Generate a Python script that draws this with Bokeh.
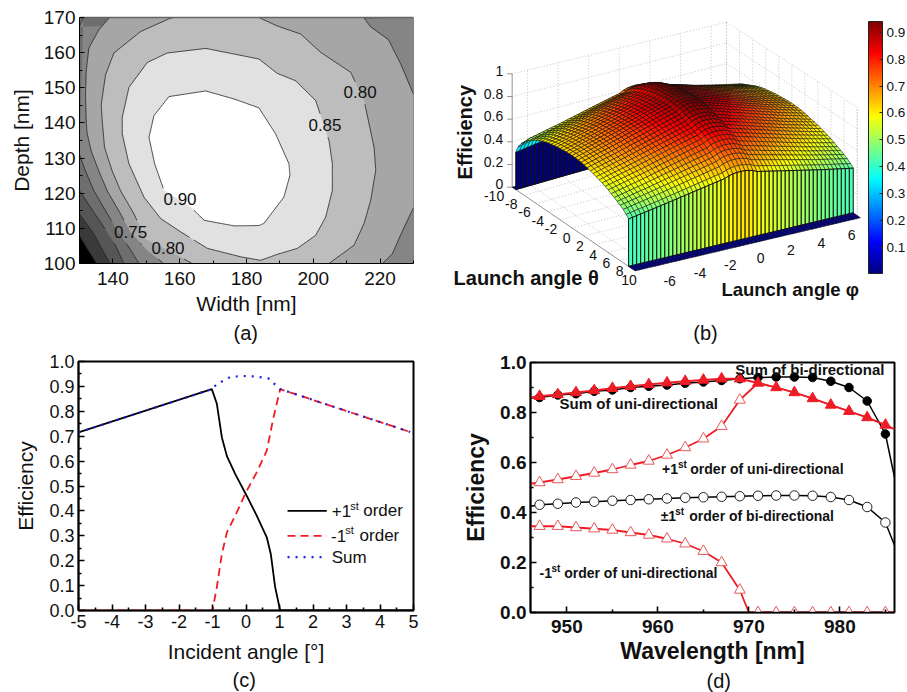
from bokeh.plotting import figure
from bokeh.layouts import column, row
from bokeh.embed import file_html
from bokeh.resources import INLINE
from bokeh.models import (Label, Title, Range1d, FixedTicker, PrintfTickFormatter, LinearAxis,
                          ColorBar, LinearColorMapper, ColumnDataSource)

FONT = "Liberation Sans"

# ---------- panel (a) contour curves ----------
a_xticks = [140, 160, 180, 200, 220]
a_xminor = [130, 150, 170, 190, 210, 230]
a_yticks = [100, 110, 120, 130, 140, 150, 160, 170]
a_yminor = [105, 115, 125, 135, 145, 155, 165]
a_c55 = [(130, 107.9), (132.3, 104.2), (135.1, 100)]
a_c60 = [(130, 114.1), (134.3, 108.4), (139.1, 100)]
a_c65 = [(130, 120.7), (133.3, 116), (137.3, 110.3), (140.8, 105.1), (143.3, 100)]
a_c70 = [(130, 131), (131.8, 126.3), (134.3, 120.7), (137.8, 115), (141.3, 109.3), (144.8, 104.6), (147.8, 100)]
a_c70_top = [(131.1, 170), (130, 167.4)]
a_c75_left = [(139, 170), (135.8, 166.5), (132.8, 161.3), (132, 154.7), (131.8, 148.1), (132, 140.5), (132.3, 137),
              (133.5, 132), (135.8, 126.3), (138.3, 120.7), (142.3, 114.1), (145.3, 108.9), (150.3, 103.7), (155.2, 100)]
a_c75_rtop = [(215.1, 170), (217.1, 167.4), (222.5, 163.7), (226.1, 156.9), (230, 148.2)]
a_c75_rbot = [(230, 115.9), (226.7, 109.3), (223.7, 102.8), (220.7, 100)]
a_c80_left = [(158, 170), (156.7, 169.6), (148.3, 166), (140.3, 159.9), (137.8, 153.7), (136.5, 145.2), (136.8, 140.5),
              (137.5, 133), (139.8, 126.3), (142.3, 120.7), (146.3, 114.1), (149.8, 107), (156.7, 103.7), (163.7, 100)]
a_c80_right = [(183.7, 170), (189.2, 167.6), (196.2, 165.3), (202.2, 160.1), (211.2, 154.4), (215.2, 146.4), (218.2, 133.1),
               (218.7, 126.5), (217.2, 118), (215.2, 111.4), (212.2, 105.2), (204.7, 100)]
a_c85 = [(150.3, 157.2), (156.3, 159.9), (167.8, 161.2), (176.3, 159.6), (183.7, 158.2), (189.2, 154.1), (194.7, 152),
         (200.7, 146.4), (204.7, 135), (205.7, 128.4), (205.7, 120.8), (203.7, 113.2), (200.7, 108), (195.2, 104.3),
         (189.2, 102.6), (184.2, 100.9), (178.3, 101.9), (168.3, 104.3), (160.3, 109), (154.3, 112.8), (149.3, 118.9),
         (144.8, 128.4), (142.8, 136.9), (142.8, 141.6), (144.8, 150.1), (150.3, 157.2)]
a_c90 = [(156.8, 147.5), (167.8, 149.1), (176.3, 146.8), (183.7, 144.3), (188.7, 136.9), (192.7, 128.4), (193, 125.1),
         (191.2, 118.9), (185.2, 111.4), (183.7, 110.8), (176.3, 110.7), (167.3, 112.3), (163.3, 116.1), (155.3, 120.8),
         (152.5, 128.4), (150.8, 135.9), (152.3, 142.1), (156.8, 147.5)]
a_labels = [(160.1, 118.3, "0.90"), (203.5, 139.5, "0.85"), (214, 148.7, "0.80"), (145.3, 109, "0.75"), (156.5, 104.3, "0.80")]

# ---------- panel (b) surface ----------
b_theta = [-10, -9.4, -9.4, -9, -8.5, -8, -7.5, -7, -6.5, -6, -5.5, -5, -4.5, -4, -3.5, -3, -2.5, -2, -1.5, -1, -0.5, 0,
           0.5, 1, 1.5, 2, 2.5, 3, 3.5, 4, 4.5, 5, 5.5, 6, 6.5, 7, 7.5, 8, 8.5, 9, 9.4, 9.4, 10.5]
b_theta_level = [0, 0, 0.52, 0.62, 0.69, 0.74, 0.80, 0.82, 0.85, 0.875, 0.90, 0.92, 0.935, 0.95, 0.96, 0.97, 0.98, 0.985, 0.99, 0.995, 0.998, 1,
                 0.998, 0.995, 0.99, 0.98, 0.97, 0.955, 0.945, 0.93, 0.915, 0.90, 0.88, 0.86, 0.835, 0.81, 0.785, 0.76, 0.73, 0.69, 0.65, 0, 0]
b_phi = [-7, -6.75, -6.5, -6.25, -6, -5.75, -5.5, -5.25, -5, -4.75, -4.5, -4.25, -4, -3.75, -3.5, -3.25, -3, -2.75, -2.5, -2.25, -2, -1.75, -1.5, -1.25, -1, -0.75, -0.5, -0.25, 0,
         0.25, 0.5, 0.75, 1, 1.25, 1.5, 1.75, 2, 2.25, 2.5, 2.75, 3, 3.25, 3.5, 3.75, 4, 4.25, 4.5, 4.75, 5, 5.25, 5.5, 5.75, 6, 6.25, 6.5, 6.75, 7]
b_phi_level = [0.635, 0.645, 0.655, 0.665, 0.675, 0.685, 0.695, 0.705, 0.715, 0.726, 0.737, 0.748, 0.759, 0.77, 0.781, 0.792, 0.803, 0.814, 0.825, 0.836, 0.847, 0.858, 0.869, 0.88, 0.89, 0.915, 0.93, 0.938, 0.94,
               0.938, 0.93, 0.915, 0.89, 0.88, 0.869, 0.858, 0.847, 0.836, 0.825, 0.814, 0.803, 0.792, 0.781, 0.77, 0.759, 0.748, 0.737, 0.726, 0.715, 0.705, 0.695, 0.685, 0.675, 0.665, 0.655, 0.645, 0.635]
b_cb_ticks = [0.1, 0.2, 0.3, 0.4, 0.5, 0.6, 0.7, 0.8, 0.9]
b_z_ticks = [0, 0.2, 0.4, 0.6, 0.8, 1]
b_z_labels = ["0", "0.2", "0.4", "0.6", "0.8", "1"]
b_theta_ticks = [-10, -8, -6, -4, -2, 0, 2, 4, 6, 8, 10]
b_phi_ticks = [-6, -4, -2, 0, 2, 4, 6]

# ---------- panel (c) ----------
c_plus_x = [-5, -1.02, -0.87, -0.72, -0.57, -0.32, 0.02, 0.32, 0.62, 0.74, 0.87, 1.02, 5]
c_plus_y = [0.715, 0.889, 0.83, 0.695, 0.62, 0.548, 0.461, 0.381, 0.294, 0.227, 0.094, 0, 0]
c_minus_x = [-5, -1.0, -0.87, -0.72, -0.57, -0.32, 0, 0.32, 0.62, 0.82, 1.02, 4.9]
c_minus_y = [0, 0, 0.094, 0.227, 0.314, 0.381, 0.475, 0.555, 0.642, 0.775, 0.889, 0.717]
c_sum_x = [-5, -1.02, -0.87, -0.47, -0.12, 0.27, 0.67, 1.02, 4.9]
c_sum_y = [0.715, 0.889, 0.909, 0.938, 0.942, 0.94, 0.932, 0.889, 0.717]
c_xticks = [-5, -4, -3, -2, -1, 0, 1, 2, 3, 4, 5]
c_xminor = [-4.5, -3.5, -2.5, -1.5, -0.5, 0.5, 1.5, 2.5, 3.5, 4.5]
c_yticks = [0, .1, .2, .3, .4, .5, .6, .7, .8, .9, 1.0]
c_yminor = [.05, .15, .25, .35, .45, .55, .65, .75, .85, .95]

# ---------- panel (d) ----------
d_wl = [947, 949, 951, 953, 955, 957, 959, 961, 963, 965, 967, 969, 971, 973, 975, 977, 979, 981, 983, 985]
d_sum_bi = [.86, .87, .875, .885, .89, .90, .905, .91, .917, .922, .928, .935, .94, .942, .942, .94, .925, .90, .846, .714]
d_sum_uni = [.865, .872, .88, .888, .897, .905, .912, .919, .925, .93, .935, .935, .918, .90, .88, .856, .83, .805, .78, .75]
d_plus_uni = [.52, .532, .545, .558, .572, .59, .606, .63, .66, .695, .745, .85, .918, .90, .88, .856, .83, .805, .78, .75]
d_minus_uni = [.345, .345, .34, .335, .33, .32, .31, .295, .275, .245, .2, .09, 0, 0, 0, 0, 0, 0, 0, 0]
d_pm_bi = [.431, .435, .44, .443, .447, .45, .453, .456, .459, .461, .463, .465, .467, .468, .468, .467, .462, .45, .422, .36]
d_xticks = [950, 960, 970, 980]
d_xminor = [955, 965, 975, 985]
d_yticks = [0, .2, .4, .6, .8, 1.0]
d_yminor = [.1, .3, .5, .7, .9]


def lab(p, x, y, text, size, bold=False, align="left", base="middle", angle=0, color="#111111"):
    p.add_layout(Label(x=x, y=y, text=text, text_font=FONT, text_font_size=f"{size}px",
                       text_font_style="bold" if bold else "normal", text_align=align,
                       text_baseline=base, angle=angle, angle_units="deg", text_color=color))


def caption(p, text, offset, standoff):
    p.add_layout(Title(text=text, align="left", offset=offset, standoff=standoff, text_font=FONT,
                       text_font_size="20px", text_font_style="normal", text_color="#111111"), "below")


def style(p, tick=19, title=21, bold=False, lw=1.0, mj=6, mn=3, xst=6, yst=6, xstand=4):
    fs = "bold" if bold else "normal"
    p.grid.visible = False
    for ax in (p.xaxis[0], p.yaxis[0]):
        ax.major_label_text_font = FONT
        ax.major_label_text_font_size = f"{tick}px"
        ax.major_label_text_font_style = fs
        ax.major_label_text_color = "#111111"
        ax.axis_label_text_font = FONT
        ax.axis_label_text_font_size = f"{title}px"
        ax.axis_label_text_font_style = fs
        ax.axis_label_text_color = "#111111"
        ax.major_tick_in = mj
        ax.major_tick_out = 0
        ax.minor_tick_in = mn
        ax.minor_tick_out = 0
        ax.axis_line_width = lw
        ax.major_tick_line_width = lw
        ax.minor_tick_line_width = lw
        ax.major_label_standoff = 4
    p.xaxis[0].major_label_standoff = xstand
    p.xaxis[0].axis_label_standoff = xst
    p.yaxis[0].axis_label_standoff = yst


# ========== (a) ==========
pa = figure(width=440, height=346, output_backend="svg", toolbar_location=None,
            x_range=Range1d(130, 230), y_range=Range1d(100, 170),
            min_border_left=79, min_border_right=27, min_border_top=17, min_border_bottom=83,
            x_axis_label="Width [nm]", y_axis_label="Depth [nm]")
style(pa, tick=19, title=21, lw=1.0, mj=5, mn=3, xst=4, yst=8, xstand=8)
pa.xaxis[0].ticker = FixedTicker(ticks=a_xticks, minor_ticks=a_xminor)
pa.yaxis[0].ticker = FixedTicker(ticks=a_yticks, minor_ticks=a_yminor)
pa.outline_line_color = None


def poly(points, color):
    pa.patch([q[0] for q in points], [q[1] for q in points], fill_color=color, line_color=None)


def in_label(x, y):
    return any(abs(x - lx) < 7.6 and abs(y - ly) < 3.0 for lx, ly, _ in a_labels)


def curve(points):
    # the polyline is left open where a level label sits on it
    xs_, ys_ = [], []
    for (x0, y0), (x1, y1) in zip(points[:-1], points[1:]):
        for k in range(12):
            t = k / 12
            x, y = x0 + (x1 - x0) * t, y0 + (y1 - y0) * t
            hide = in_label(x, y)
            xs_.append(float("nan") if hide else x)
            ys_.append(float("nan") if hide else y)
    xs_.append(points[-1][0])
    ys_.append(points[-1][1])
    pa.line(xs_, ys_, line_color="#222222", line_width=0.8)


NW, NE, SE, SW = (130, 170), (230, 170), (230, 100), (130, 100)
poly([NW, NE, SE, SW], "#000000")
poly(a_c55 + [SE, NE, NW], "#3a3a3a")
poly(a_c60 + [SE, NE, NW], "#565656")
poly(a_c65 + [SE, NE, NW], "#6e6e6e")
poly(a_c70_top[::-1] + a_c70 + [SE, NE], "#858585")
poly(a_c75_left + a_c75_rbot[::-1] + a_c75_rtop[::-1], "#a6a6a6")
poly(a_c80_left + a_c80_right[::-1], "#bdbdbd")
poly(a_c85, "#e1e1e1")
poly(a_c90, "#ffffff")
for c in (a_c55, a_c60, a_c65, a_c70, a_c70_top, a_c75_left, a_c75_rtop, a_c75_rbot, a_c80_left, a_c80_right, a_c85, a_c90):
    curve(c)
top = LinearAxis(ticker=FixedTicker(ticks=[]), axis_line_color="#666666", axis_line_width=1.5)
pa.add_layout(top, "above")
for x, y, t in a_labels:
    lab(pa, x, y, t, 17, align="center")
caption(pa, "(a)", 154, 4)


# ========== (b) ==========
pb = figure(width=467, height=346, output_backend="svg", toolbar_location=None,
            x_range=Range1d(0, 467), y_range=Range1d(346, 0), x_axis_type=None, y_axis_type=None,
            min_border_left=0, min_border_right=0, min_border_top=0, min_border_bottom=0, outline_line_color=None)
pb.grid.visible = False

CORNERS = {"l": (215, 560, 340), "f": (575, 805, 345), "r": (1250, 645, 325), "b": (858, 375, 310)}


def proj(th, ph, z):
    u = (th + 10) / 20
    v = (ph + 7) / 14
    w = {"l": (1 - u) * (1 - v), "f": u * (1 - v), "r": u * v, "b": (1 - u) * v}
    X = sum(w[k] * CORNERS[k][0] for k in w)
    Y = sum(w[k] * CORNERS[k][1] for k in w)
    S = sum(w[k] * CORNERS[k][2] for k in w)
    return X / 3, (Y - S * z) / 3


def seg(a, b, color="#b5b5b5", dash="1 2", width=0.8):
    pb.line([a[0], b[0]], [a[1], b[1]], line_color=color, line_dash=dash, line_width=width)


for z in b_z_ticks:
    seg(proj(-10, -7, z), proj(-10, 7, z))
    seg(proj(-10, 7, z), proj(10, 7, z))
for ph in b_phi_ticks:
    seg(proj(-10, ph, 0), proj(-10, ph, 1))
    seg(proj(-10, ph, 0), proj(10, ph, 0))
for th in b_theta_ticks:
    seg(proj(th, 7, 0), proj(th, 7, 1))
    seg(proj(th, -7, 0), proj(th, 7, 0))
seg(proj(-10, -7, 0), proj(-10, -7, 1), "#777777", "solid", 0.8)
seg(proj(-10, -7, 0), proj(10, -7, 0), "#777777", "solid", 0.8)
seg(proj(10, -7, 0), proj(10, 7, 0), "#777777", "solid", 0.8)
seg(proj(10, 7, 0), proj(10, 7, 1))
seg(proj(-10, 7, 0), proj(-10, 7, 1))

Z_LOW, Z_HIGH = 0.0034, 0.94


def jet(t):
    t = max(0.0, min(1.0, t))
    f = lambda c: max(0.0, min(1.0, 1.5 - abs(4 * t - c)))
    return "#%02x%02x%02x" % (int(255 * f(3)), int(255 * f(2)), int(255 * f(1)))


xs, ys, cols, widths = [], [], [], []
for i in range(len(b_theta) - 1):
    wall = b_theta[i] == b_theta[i + 1]
    for j in range(len(b_phi) - 2, -1, -1):
        z00 = b_theta_level[i] * b_phi_level[j]
        quad = [(i, j), (i + 1, j), (i + 1, j + 1), (i, j + 1)]
        pts = [proj(b_theta[a], b_phi[b], b_theta_level[a] * b_phi_level[b]) for a, b in quad]
        xs.append([q[0] for q in pts])
        ys.append([q[1] for q in pts])
        cols.append(jet((z00 - Z_LOW) / (Z_HIGH - Z_LOW)))
        widths.append(1.0 if wall else 0.55)
pb.patches("xs", "ys", source=ColumnDataSource(dict(xs=xs, ys=ys, c=cols, w=widths)), fill_color="c",
           line_color="#111111", line_width="w")

for z, t in zip(b_z_ticks, b_z_labels):
    x0, y0 = proj(-10, -7, z)
    seg((x0 - 5, y0), (x0, y0), "#777777", "solid", 0.8)
    lab(pb, x0 - 9, y0 - 3, t, 14, align="right")
for th in b_theta_ticks:
    x0, y0 = proj(th, -7, 0)
    lab(pb, x0 + (-5 + 1.9 * th) / 3, y0 + (29 + 0.4 * th) / 3, str(th), 14, align="right")
for ph in b_phi_ticks:
    x0, y0 = proj(10, ph, 0)
    lab(pb, x0 + (48 - 2.7 * ph) / 3, y0 + 47 / 3, str(ph), 14, align="center")
lab(pb, 24, 131.7, "Efficiency", 20, bold=True, align="center", angle=90)
lab(pb, 85.7, 277.3, "Launch angle θ", 20, bold=True, align="center")
lab(pb, 349.7, 289, "Launch angle φ", 18.5, bold=True, align="center")
lab(pb, 265, 332, "(b)", 20, align="center")

palette = [jet(k / 255) for k in range(256)]
cbar = ColorBar(color_mapper=LinearColorMapper(palette=palette, low=Z_LOW, high=Z_HIGH),
                ticker=FixedTicker(ticks=b_cb_ticks), formatter=PrintfTickFormatter(format="%.1f"),
                location=(428, 73), width=14, height=252, padding=0, margin=0,
                major_label_text_font=FONT, major_label_text_font_size="13.5px", major_label_text_color="#111111",
                major_tick_line_color="#222222", major_tick_in=3, major_tick_out=0, bar_line_color="#222222",
                minor_tick_line_color=None, label_standoff=4, background_fill_color=None, border_line_color=None)
pb.add_layout(cbar)


# ========== (c) ==========
pc = figure(width=440, height=346, output_backend="svg", toolbar_location=None,
            x_range=Range1d(-5, 5), y_range=Range1d(0, 1),
            min_border_left=78, min_border_right=27, min_border_top=15, min_border_bottom=82,
            x_axis_label="Incident angle [°]", y_axis_label="Efficiency")
style(pc, tick=18, title=21, lw=1.6, mj=6, mn=3, xst=9, yst=9, xstand=4)
pc.xaxis[0].ticker = FixedTicker(ticks=c_xticks, minor_ticks=c_xminor)
pc.xaxis[0].major_label_overrides = {v: str(v) for v in c_xticks}
pc.yaxis[0].ticker = FixedTicker(ticks=c_yticks, minor_ticks=c_yminor)
pc.yaxis[0].formatter = PrintfTickFormatter(format="%.1f")
pc.outline_line_color = "black"
pc.outline_line_width = 2
pc.line(c_plus_x, c_plus_y, line_color="black", line_width=1.8)
pc.line(c_minus_x, c_minus_y, line_color="#ee1c25", line_width=1.8, line_dash="8 5")
pc.line(c_sum_x, c_sum_y, line_color="#1f1fe0", line_width=2.2, line_dash="2 6")
pc.line([1.24, 2.41], [.40, .40], line_color="black", line_width=1.8)
pc.line([1.24, 2.41], [.30, .30], line_color="#ee1c25", line_width=1.8, line_dash="8 5")
pc.line([1.24, 2.41], [.214, .214], line_color="#1f1fe0", line_width=2.2, line_dash="2 6")
lab(pc, 2.56, .40, "+1", 17)
lab(pc, 3.11, .42, "st", 11)
lab(pc, 3.5, .40, "order", 17)
lab(pc, 2.54, .30, "-1", 17)
lab(pc, 2.96, .324, "st", 11)
lab(pc, 3.39, .30, "order", 17)
lab(pc, 2.56, .214, "Sum", 17)
caption(pc, "(c)", 154, 3)


# ========== (d) ==========
pd_ = figure(width=459, height=346, output_backend="svg", toolbar_location=None,
             x_range=Range1d(946, 986), y_range=Range1d(0, 1),
             min_border_left=90, min_border_right=5, min_border_top=16, min_border_bottom=80,
             x_axis_label="Wavelength [nm]", y_axis_label="Efficiency")
style(pd_, tick=19, title=23, bold=True, lw=1.6, mj=6, mn=3, xst=2, yst=8, xstand=7)
pd_.xaxis[0].ticker = FixedTicker(ticks=d_xticks, minor_ticks=d_xminor)
pd_.yaxis[0].ticker = FixedTicker(ticks=d_yticks, minor_ticks=d_yminor)
pd_.yaxis[0].formatter = PrintfTickFormatter(format="%.1f")
pd_.outline_line_color = "black"
pd_.outline_line_width = 2
RED = "#ee1c25"
PALE = "#e85a5a"
wl_line = [946] + d_wl + [986]
pd_.line(wl_line, [.425] + d_pm_bi + [.269], line_color="black", line_width=1.5)
pd_.scatter(d_wl, d_pm_bi, marker="circle", size=9.5, fill_color="white", line_color="#222222", line_width=1)
pd_.line(wl_line, [.515] + d_plus_uni + [.733], line_color=RED, line_width=1.8)
pd_.scatter(d_wl[:12], d_plus_uni[:12], marker="triangle", size=11, fill_color="white", line_color=PALE, line_width=1)
pd_.line(wl_line[:13] + [970, 971, 986], [.345] + d_minus_uni[:12] + [0, 0, 0], line_color=RED, line_width=1.8)
pd_.scatter(d_wl, d_minus_uni, marker="triangle", size=11, fill_color="white", line_color=PALE, line_width=1)
pd_.line(wl_line, [.858] + d_sum_bi + [.541], line_color="black", line_width=1.5)
pd_.scatter(d_wl, d_sum_bi, marker="circle", size=8.5, fill_color="black", line_color="black")
pd_.line(wl_line, [.86] + d_sum_uni + [.733], line_color=RED, line_width=1.8)
pd_.scatter(d_wl, d_sum_uni, marker="triangle", size=11, fill_color=RED, line_color=RED)
lab(pd_, 968.5, .973, "Sum of bi-directional", 15, bold=True)
lab(pd_, 949.2, .836, "Sum of uni-directional", 15, bold=True)
lab(pd_, 960.45, .574, "+1", 14, bold=True)
lab(pd_, 962.2, .592, "st", 10, bold=True)
lab(pd_, 963.56, .574, "order of uni-directional", 14, bold=True)
lab(pd_, 960.3, .388, "±1", 14, bold=True)
lab(pd_, 961.9, .406, "st", 10, bold=True)
lab(pd_, 963.45, .388, "order of bi-directional", 14, bold=True)
lab(pd_, 947, .16, "-1", 14, bold=True)
lab(pd_, 948.3, .178, "st", 10, bold=True)
lab(pd_, 949.7, .16, "order of uni-directional", 14, bold=True)
caption(pd_, "(d)", 176, 2)

page = column(row(column(pa), column(pb)), row(column(pc), column(pd_)))
open("out.html", "w").write(file_html(page, INLINE))
